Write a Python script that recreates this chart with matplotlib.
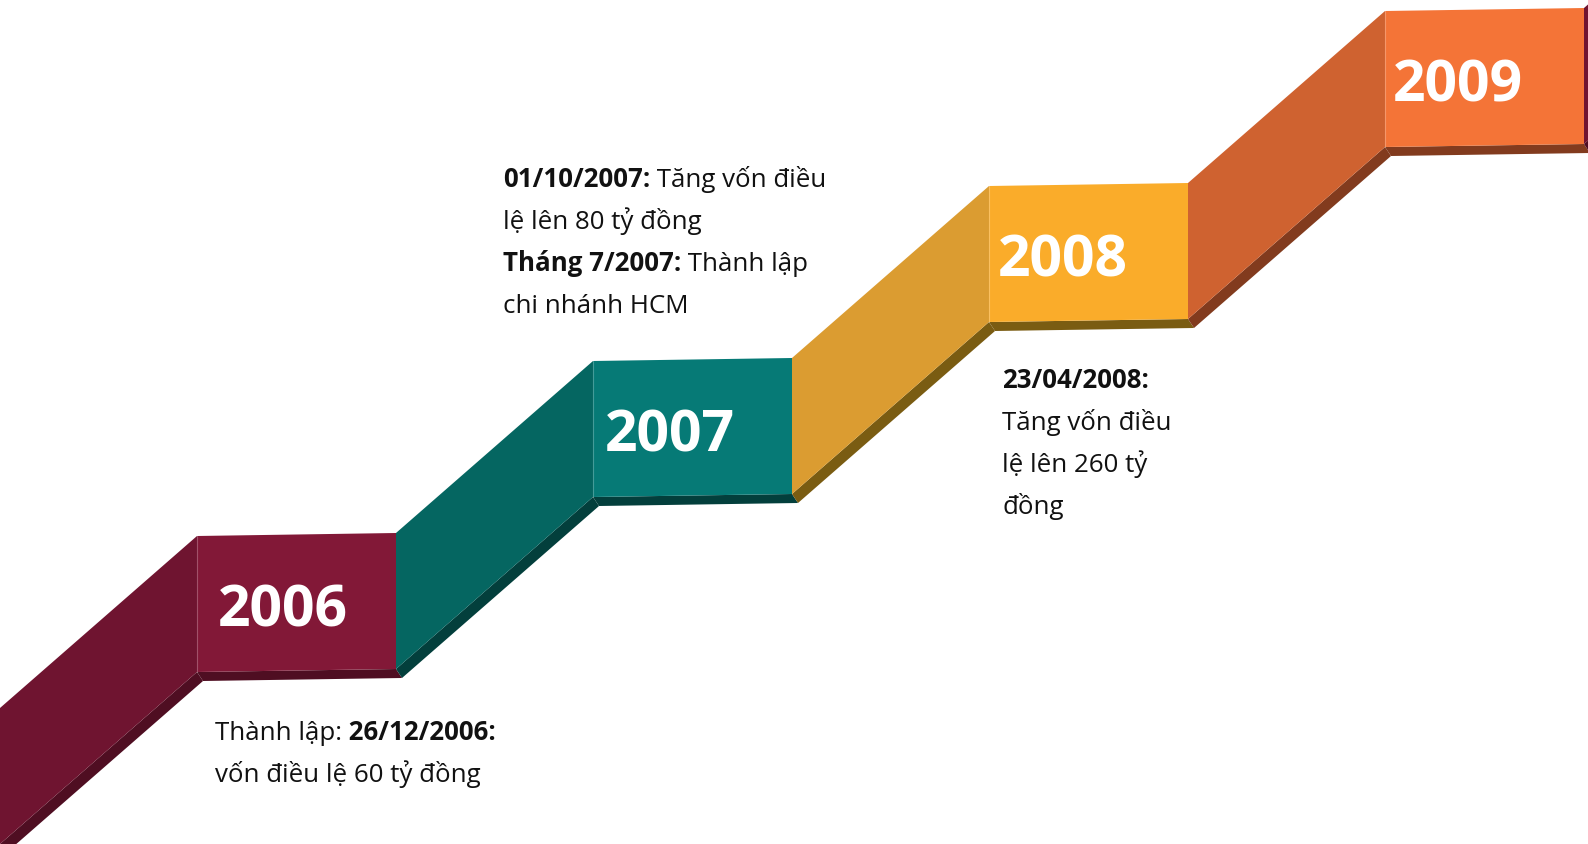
import matplotlib
matplotlib.use("Agg")
import matplotlib.pyplot as plt
from matplotlib.patches import Polygon

# timeline data
years = ["2006", "2007", "2008", "2009"]
front_colors = ["#821837", "#067A76", "#FAAC2A", "#F47437"]
side_colors = ["#6F1430", "#056661", "#DB9C31", "#CF6230"]
shadow_colors = ["#4F0E22", "#033F3C", "#7A5C12", "#823B1E"]

note_2006 = [[("Thành lập:", "normal"), (" 26/12/2006:", "bold")],
             [("vốn điều lệ 60 tỷ đồng", "normal")]]
note_2007 = [[("01/10/2007:", "bold"), (" Tăng vốn điều", "normal")],
             [("lệ lên 80 tỷ đồng", "normal")],
             [("Tháng 7/2007:", "bold"), (" Thành lập", "normal")],
             [("chi nhánh HCM", "normal")]]
note_2008 = [[("23/04/2008:", "bold")],
             [("Tăng vốn điều", "normal")],
             [("lệ lên 260 tỷ", "normal")],
             [("đồng", "normal")]]

# layout (pixels)
W, H = 1588, 845
X0, T0 = 197, 537          # first front face, top-left corner
STEP_X, STEP_Y = 396, 175
FRONT_W, SIDE_W = 199, 197
FACE_H, SKEW = 136, 3
SH_DX, SH_DY = 6, 9
LABEL_DX = [21, 12, 9, 8]  # year label inset from the face's left edge
FONT = ["Open Sans", "DejaVu Sans"]

fig = plt.figure(figsize=(W / 100, H / 100), dpi=100)
ax = fig.add_axes([0, 0, 1, 1])
ax.set_xlim(0, W)
ax.set_ylim(H, 0)
ax.axis("off")


def step(i, side_c, front_c, shadow_c, draw_front=True):
    L = X0 + i * STEP_X
    T = T0 - i * STEP_Y
    sl = L - SIDE_W
    st = T + STEP_Y - SKEW
    # shadow strip + slanted side
    ax.add_patch(Polygon([(sl, st + FACE_H), (L, T + FACE_H),
                          (L + SH_DX, T + FACE_H + SH_DY), (sl + SH_DX, st + FACE_H + SH_DY)],
                         closed=True, fc=shadow_c, ec="none", zorder=1))
    ax.add_patch(Polygon([(sl, st), (L, T), (L, T + FACE_H), (sl, st + FACE_H)],
                         closed=True, fc=side_c, ec="none", zorder=2))
    if not draw_front:
        return
    ax.add_patch(Polygon([(L, T + FACE_H), (L + FRONT_W, T - SKEW + FACE_H),
                          (L + FRONT_W + SH_DX, T - SKEW + FACE_H + SH_DY),
                          (L + SH_DX, T + FACE_H + SH_DY)],
                         closed=True, fc=shadow_c, ec="none", zorder=1))
    ax.add_patch(Polygon([(L, T), (L + FRONT_W, T - SKEW),
                          (L + FRONT_W, T - SKEW + FACE_H), (L, T + FACE_H)],
                         closed=True, fc=front_c, ec="none", zorder=3))
    ax.plot([L, L], [T, T + FACE_H], color="white", alpha=0.25, lw=0.8, zorder=4)


for i, yr in enumerate(years):
    step(i, side_colors[i], front_colors[i], shadow_colors[i])
    L = X0 + i * STEP_X
    T = T0 - i * STEP_Y
    ax.text(L + LABEL_DX[i], T - SKEW / 2 + FACE_H / 2 + 8, yr, color="white",
            fontsize=41, fontweight="bold", family=FONT, ha="left", va="center", zorder=5)

# start of the next step peeking in at the right edge
step(len(years), side_colors[0], None, shadow_colors[0], draw_front=False)


def put_note(x, y0, lines, size=18.6, gap=42):
    for k, runs in enumerate(lines):
        prev = None
        for s, w in runs:
            if prev is None:
                prev = ax.text(x, y0 + k * gap, s, fontsize=size, fontweight=w, family=FONT,
                               color="#111111", ha="left", va="baseline", zorder=5)
            else:
                prev = ax.annotate(s, xy=(1, 0), xycoords=prev, fontsize=size, fontweight=w,
                                   family=FONT, color="#111111", ha="left", va="bottom", zorder=5)


put_note(215, 740, note_2006)
put_note(503, 187, note_2007)
put_note(1002, 388, note_2008)

fig.savefig("out.png", dpi=100, facecolor="white")
